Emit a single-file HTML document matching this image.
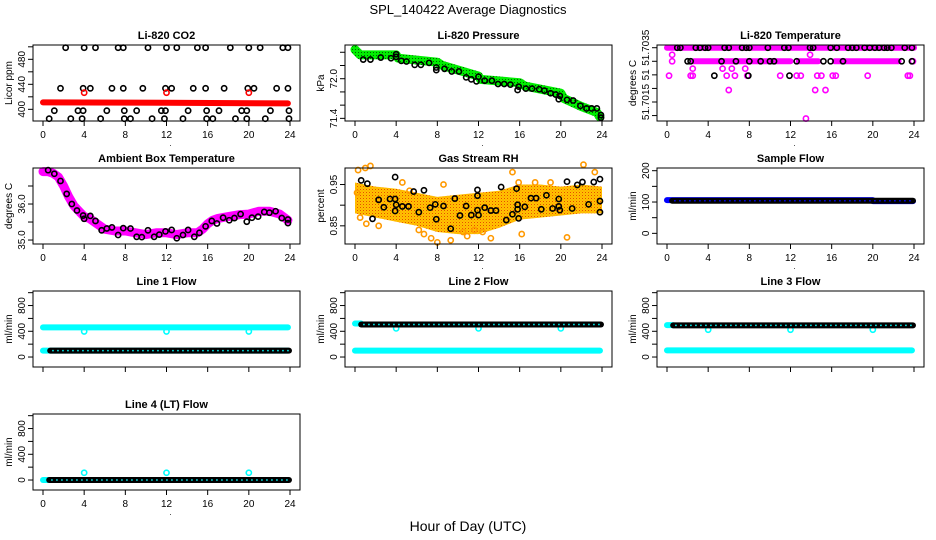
<!DOCTYPE html>
<html><head><meta charset="utf-8"><style>
html,body{margin:0;padding:0;background:#fff;}
svg{display:block;font-family:"Liberation Sans",Arial,sans-serif;}
</style></head><body>
<svg id="chart" width="936" height="540" viewBox="0 0 936 540">
<defs>
<pattern id="rhpat" width="3" height="3" patternUnits="userSpaceOnUse"><rect width="3" height="3" fill="#ffc400"/><rect x="0" y="0" width="1" height="1" fill="#e84a00"/><rect x="1.5" y="1.5" width="1" height="1" fill="#ff8c00"/></pattern>
<pattern id="grpat" width="3" height="3" patternUnits="userSpaceOnUse"><rect width="3" height="3" fill="#00ee00"/><rect x="1" y="1" width="1" height="1" fill="#006000"/></pattern>
</defs>
<text x="468" y="14" text-anchor="middle" font-size="13">SPL_140422  Average Diagnostics</text>
<text x="468" y="531" text-anchor="middle" font-size="14">Hour of Day (UTC)</text>
<g id="panels"></g>
</svg>
<script>
// ---------- data ----------
const xTicks=[0,4,8,12,16,20,24];
// CO2
const co2BlackHours=[2.2,4,5.1,7.3,7.8,10.2,12,13,15,15.8,18.2,20,21.1,23.3,23.8, 1.7,3.9,4.6,6.7,7.8,9.7,11.9,12.5,14.6,15.8,17.6,19.9,20.5,22.7,23.8, 1.1,3.4,3.9,6.2,7.9,9.1,11.5,11.9,14.1,15.9,17.1,19.3,19.8,22.1,23.9, 0.6,2.7,3.8,5.6,7.9,8.5,10.6,11.8,13.6,15.9,16.5,18.7,19.8,21.6,23.9];
const co2BlackVals=[498.6,498.6,498.6,498.6,498.6,498.6,498.6,498.6,498.6,498.6,498.6,498.6,498.6,498.6,498.6, 433.6,433.6,433.6,433.6,433.6,433.6,433.6,433.6,433.6,433.6,433.6,433.6,433.6,433.6,433.6, 397.8,397.8,397.8,397.8,397.8,397.8,397.8,397.8,397.8,397.8,397.8,397.8,397.8,397.8,397.8, 385,385,385,385,385,385,385,385,385,385,385,385,385,385,385];
const co2RedHours=[0,12,23.8];
const co2RedVals=[411,410.5,409.5];
const co2RedOutHours=[4,12,20];
const co2RedOutVals=[426.6,426.6,426.6];
// Pressure
const presGreenHours=[0,0.5,4,4.2,8,8.5,12,12.2,16,16.5,20,20.3,22,23.5,23.8];
const presGreenVals=[72.44,72.36,72.36,72.31,72.25,72.2,72.04,71.99,71.94,71.89,71.78,71.70,71.58,71.49,71.42];
const presBlackHours=[0.8,1.5,2.5,3.5,4,4,4.5,5,5.8,6.4,7.2,7.9,7.9,8.7,9.4,10.1,10.8,11.3,11.8,12,12.6,13.3,13.9,14.5,15.1,15.8,15.9,16.6,17.2,17.9,18.4,19,19.5,19.8,19.9,20.6,21.2,21.9,22.5,23,23.5,23.9,23.9];
const presBlackVals=[72.29,72.29,72.32,72.31,72.37,72.33,72.27,72.26,72.21,72.21,72.24,72.13,72.17,72.15,72.11,72.11,72.02,71.99,71.96,72.03,71.97,71.97,71.92,71.92,71.91,71.83,71.88,71.85,71.85,71.84,71.82,71.78,71.76,71.69,71.74,71.68,71.67,71.59,71.55,71.55,71.55,71.41,71.45];
// Li-820 temperature
const ltMagBandStart=[0,2.6,5.5,12.8,16.3];
const ltMagBandEnd=[24,5.2,12.0,14.7,22.5];
const ltMagBandVals=[51.7035,51.7030,51.7030,51.7030,51.7030];
const ltMagHours=[0.2,0.5,0.5,2.3,2.5,2.5,5.4,5.8,6.0,6.3,6.6,7.6,7.8,11.0,12.6,13.0,13.5,13.9,14.4,14.6,15.0,15.4,16.1,16.4,19.5,23.4,23.6,23.9];
const ltMagVals=[51.70247,51.70324,51.7030,51.70247,51.70273,51.70247,51.70273,51.70247,51.70194,51.70273,51.70247,51.70273,51.70247,51.70247,51.70247,51.70247,51.70089,51.70324,51.70194,51.70247,51.70247,51.70194,51.70247,51.70247,51.70247,51.70247,51.70247,51.7030];
const ltBlackHours=[1.0,1.3,2.8,3.2,3.7,4.0,5.6,6.0,7.3,7.7,8.0,9.8,11.4,11.8,13.9,14.2,15.9,16.5,17.6,18.0,18.4,19.2,19.7,20.2,20.6,21.1,21.4,21.8,23.1,23.8, 2.0,2.3,5.3,6.7,8.0,9.1,10.0,10.4,12.6,15.2,15.9,17.1,22.8,23.8, 4.6,7.9,11.9];
const ltBlackVals=[51.7035,51.7035,51.7035,51.7035,51.7035,51.7035,51.7035,51.7035,51.7035,51.7035,51.7035,51.7035,51.7035,51.7035,51.7035,51.7035,51.7035,51.7035,51.7035,51.7035,51.7035,51.7035,51.7035,51.7035,51.7035,51.7035,51.7035,51.7035,51.7035,51.7035, 51.7030,51.7030,51.7030,51.7030,51.7030,51.7030,51.7030,51.7030,51.7030,51.7030,51.7030,51.7030,51.7030,51.7030, 51.70247,51.70247,51.70247];
// Ambient box temperature
const ambMagHours=[0,0.5,1,1.5,2,2.5,3,3.5,4,4.5,5,5.5,6,7,8,9,10,11,12,13,14,15,15.5,16,16.5,17,18,19,20,21,22,23,23.8];
const ambMagVals=[36.9,36.9,36.85,36.75,36.5,36.2,35.95,35.8,35.65,35.6,35.5,35.4,35.3,35.25,35.25,35.2,35.15,35.2,35.2,35.15,35.2,35.2,35.3,35.45,35.55,35.6,35.65,35.7,35.72,35.8,35.8,35.72,35.55];
const ambBlackHours=[0.5,1.1,1.7,2.3,2.8,3.3,3.9,4,4.6,5.1,5.7,6.2,6.7,7.3,7.8,8.5,9.1,9.6,10.2,10.8,11.3,11.9,12.5,13.0,13.6,14.1,14.7,15.2,15.8,16.4,16.9,17.5,18.1,18.6,19.2,19.8,20.3,20.9,21.5,22.0,22.6,23.2,23.8,23.8];
const ambBlackVals=[36.94,36.84,36.64,36.28,36.0,35.82,35.68,35.59,35.67,35.53,35.27,35.32,35.35,35.14,35.33,35.32,35.09,35.08,35.27,35.09,35.15,35.24,35.28,35.05,35.14,35.28,35.09,35.2,35.38,35.53,35.46,35.62,35.55,35.61,35.72,35.51,35.62,35.65,35.78,35.76,35.80,35.61,35.57,35.47];
// Gas stream RH
const rhBandHours=[0,2,4,6,8,10,12,14,16,18,20,22,24];
const rhBandUpper=[0.955,0.945,0.94,0.93,0.92,0.925,0.93,0.935,0.95,0.95,0.945,0.95,0.945];
const rhBandLower=[0.88,0.87,0.86,0.85,0.835,0.83,0.83,0.845,0.865,0.87,0.875,0.88,0.88];
const rhOrangeHours=[0.2,0.3,1.0,1.5,0.5,1.1,4.6,8.6,6.7,7.4,8.0,9.3,10.9,13.2,15.3,16.2,20.6,22.2,23.3,15.9,5.3,2.3,11.6,17.5,19.0,6.2,10.5,12.4];
const rhOrangeVals=[0.93,0.985,0.99,0.995,0.87,0.855,0.955,0.95,0.83,0.82,0.81,0.815,0.825,0.82,0.98,0.83,0.822,0.998,0.98,0.955,0.935,0.85,0.84,0.955,0.955,0.84,0.835,0.835];
const rhBlackHours=[0.6,1.2,1.7,2.3,2.8,3.4,3.9,3.9,4.0,3.9,4.6,5.2,5.7,6.2,6.7,7.3,7.8,7.9,8.6,9.3,9.7,10.2,10.8,11.3,11.9,11.9,11.9,12.0,12.6,13.2,13.7,14.2,14.7,15.3,15.7,15.8,15.8,15.9,16.5,17.1,17.6,18.1,18.6,19.2,19.8,19.8,19.9,20.6,21.1,21.6,22.1,22.7,23.2,23.8,23.8,23.8];
const rhBlackVals=[0.960,0.952,0.867,0.913,0.895,0.915,0.968,0.915,0.901,0.886,0.897,0.897,0.933,0.883,0.936,0.894,0.902,0.866,0.898,0.843,0.916,0.875,0.898,0.876,0.937,0.923,0.888,0.876,0.894,0.887,0.887,0.944,0.864,0.878,0.940,0.901,0.89,0.868,0.896,0.917,0.917,0.89,0.924,0.892,0.915,0.897,0.888,0.957,0.892,0.949,0.956,0.902,0.956,0.963,0.91,0.883];
// Sample flow
const sfBlueStart=[0,20];const sfBlueEnd=[20,23.9];const sfBlueVals=[106,103];
const sfBlackStart=[0.5];const sfBlackEnd=[23.9];const sfBlackVals=[104];
// Line flows
const l1CyanStart=[0,0];const l1CyanEnd=[23.8,23.8];const l1CyanVals=[460,100];
const l1BlackStart=[0.7];const l1BlackEnd=[23.9];const l1BlackVals=[100];
const l1DipHours=[4,12,20];const l1DipVals=[398,398,398];
const l2CyanStart=[0,0];const l2CyanEnd=[0.6,23.8];const l2CyanVals=[520,100];
const l2BlackStart=[0.6];const l2BlackEnd=[23.9];const l2BlackVals=[505];
const l2DipHours=[4,12,20];const l2DipVals=[445,445,445];
const l3CyanStart=[0,0];const l3CyanEnd=[0.6,23.8];const l3CyanVals=[495,103];
const l3BlackStart=[0.6];const l3BlackEnd=[23.9];const l3BlackVals=[491];
const l3DipHours=[4,12,20];const l3DipVals=[425,425,425];
const l4CyanStart=[0];const l4CyanEnd=[0.6];const l4CyanVals=[0];
const l4BlackStart=[0.6];const l4BlackEnd=[23.9];const l4BlackVals=[0];
const l4PeakHours=[4,12,20];const l4PeakVals=[113,113,113];

// ---------- drawing ----------
const NS="http://www.w3.org/2000/svg";
const root=document.getElementById('panels');
function mk(tag,attrs,parent){const e=document.createElementNS(NS,tag);for(const k in attrs)e.setAttribute(k,attrs[k]);(parent||root).appendChild(e);return e;}
function geo(p){const top=45+123*p.row;return{x0:p.col*312+33,x1:p.col*312+300,top:top,bot:top+76};}
function xS(p,h){return p.col*312+43+h*247/24;}
function yS(p,v){const g=geo(p);return g.bot-(v-p.lo)/(p.hi-p.lo)*76;}

const flowTicks=[0,200,400,600,800,1000];const flowLabels=["0","","400","","800",""];
const panels=[
 {key:'co2',title:'Li-820 CO2',ylab:'Licor ppm',col:0,row:0,lo:381.3,hi:502.9,ticks:[400,420,440,460,480,500],labels:["400","","440","","480",""],xl:true,layers:[
   {t:'pts',x:co2BlackHours,y:co2BlackVals,c:'#000'},
   {t:'line',x:co2RedHours,y:co2RedVals,c:'#ff0000',w:6},
   {t:'pts',x:co2RedOutHours,y:co2RedOutVals,c:'#ff0000'}]},
 {key:'pressure',title:'Li-820 Pressure',ylab:'kPa',col:1,row:0,lo:71.36,hi:72.51,ticks:[71.4,71.6,71.8,72.0,72.2,72.4],labels:["71.4","","","72.0","",""],xl:true,layers:[
   {t:'line',x:presGreenHours,y:presGreenVals,c:'url(#grpat)',w:9},
   {t:'pts',x:presBlackHours,y:presBlackVals,c:'#000'}]},
 {key:'li-temp',title:'Li-820 Temperature',ylab:'degrees C',col:2,row:0,lo:51.7008,hi:51.70360,ticks:[51.7010,51.7015,51.7020,51.7025,51.7030,51.7035],labels:["","51.7015","","51","","51.7035"],xl:true,layers:[
   {t:'band',x0:ltMagBandStart,x1:ltMagBandEnd,y:ltMagBandVals,c:'#ff00ff',w:6},
   {t:'pts',x:ltMagHours,y:ltMagVals,c:'#ff00ff'},
   {t:'pts',x:ltBlackHours,y:ltBlackVals,c:'#000'}]},
 {key:'ambient',title:'Ambient Box Temperature',ylab:'degrees C',col:0,row:1,lo:34.89,hi:37.0,ticks:[35.0,35.5,36.0,36.5],labels:["35.0","","36.0",""],xl:true,layers:[
   {t:'line',x:ambMagHours,y:ambMagVals,c:'#ff00ff',w:9},
   {t:'pts',x:ambBlackHours,y:ambBlackVals,c:'#000'}]},
 {key:'rh',title:'Gas Stream RH',ylab:'percent',col:1,row:1,lo:0.806,hi:0.99,ticks:[0.85,0.90,0.95],labels:["0.85","","0.95"],xl:true,layers:[
   {t:'area',x:rhBandHours,up:rhBandUpper,lo:rhBandLower,c:'url(#rhpat)'},
   {t:'pts',x:rhOrangeHours,y:rhOrangeVals,c:'#ff9900'},
   {t:'pts',x:rhBlackHours,y:rhBlackVals,c:'#000'}]},
 {key:'sample-flow',title:'Sample Flow',ylab:'ml/min',col:2,row:1,lo:-34,hi:208.6,ticks:[0,50,100,150,200],labels:["0","","100","","200"],xl:true,layers:[
   {t:'band',x0:sfBlueStart,x1:sfBlueEnd,y:sfBlueVals,c:'#0000ff',w:6},
   {t:'band',x0:sfBlackStart,x1:sfBlackEnd,y:sfBlackVals,c:'#000',w:6,ring:'#0000ff'}]},
 {key:'line1',title:'Line 1 Flow',ylab:'ml/min',col:0,row:2,lo:-155,hi:1026,ticks:flowTicks,labels:flowLabels,xl:false,layers:[
   {t:'band',x0:l1CyanStart,x1:l1CyanEnd,y:l1CyanVals,c:'#00ffff',w:6},
   {t:'pts',x:l1DipHours,y:l1DipVals,c:'#00ffff'},
   {t:'band',x0:l1BlackStart,x1:l1BlackEnd,y:l1BlackVals,c:'#000',w:6,ring:'#00ffff'}]},
 {key:'line2',title:'Line 2 Flow',ylab:'ml/min',col:1,row:2,lo:-155,hi:1026,ticks:flowTicks,labels:flowLabels,xl:false,layers:[
   {t:'band',x0:l2CyanStart,x1:l2CyanEnd,y:l2CyanVals,c:'#00ffff',w:6},
   {t:'pts',x:l2DipHours,y:l2DipVals,c:'#00ffff'},
   {t:'band',x0:l2BlackStart,x1:l2BlackEnd,y:l2BlackVals,c:'#000',w:6,ring:'#00ffff'}]},
 {key:'line3',title:'Line 3 Flow',ylab:'ml/min',col:2,row:2,lo:-155,hi:1026,ticks:flowTicks,labels:flowLabels,xl:false,layers:[
   {t:'band',x0:l3CyanStart,x1:l3CyanEnd,y:l3CyanVals,c:'#00ffff',w:6},
   {t:'pts',x:l3DipHours,y:l3DipVals,c:'#00ffff'},
   {t:'band',x0:l3BlackStart,x1:l3BlackEnd,y:l3BlackVals,c:'#000',w:6,ring:'#00ffff'}]},
 {key:'line4',title:'Line 4 (LT) Flow',ylab:'ml/min',col:0,row:3,lo:-155,hi:1026,ticks:flowTicks,labels:flowLabels,xl:true,layers:[
   {t:'band',x0:l4CyanStart,x1:l4CyanEnd,y:l4CyanVals,c:'#00ffff',w:6},
   {t:'band',x0:l4BlackStart,x1:l4BlackEnd,y:l4BlackVals,c:'#000',w:6,ring:'#00ffff'},
   {t:'pts',x:l4PeakHours,y:l4PeakVals,c:'#00ffff'}]}
];

panels.forEach(p=>{
  const g=geo(p);
  const grp=mk('g',{});
  
  
  const t=mk('text',{x:(g.x0+g.x1)/2,y:g.top-6,'text-anchor':'middle','font-size':11,'font-weight':'bold'},grp);
  t.textContent=p.title;
  
  
  const yl=mk('text',{transform:`translate(${p.col*312+12},${(g.top+g.bot)/2}) rotate(-90)`,'text-anchor':'middle','font-size':10},grp);
  yl.textContent=p.ylab;
  
  
  const plot=mk('g',{},grp);
  
  
  p.layers.forEach(L=>{
    if(L.t==='pts'){
      L.x.forEach((h,i)=>{
        const c=mk('circle',{cx:xS(p,h),cy:yS(p,L.y[i]),r:2.6,fill:'none',stroke:L.c,'stroke-width':1.6},plot);
        
        
      });
    }else if(L.t==='line'){
      const pts=L.x.map((h,i)=>xS(p,h).toFixed(1)+','+yS(p,L.y[i]).toFixed(1)).join(' ');
      const pl=mk('polyline',{points:pts,fill:'none',stroke:L.c,'stroke-width':L.w,'stroke-linecap':'round','stroke-linejoin':'round'},plot);
      
      
    }else if(L.t==='band'){
      L.x0.forEach((h,i)=>{
        const y=yS(p,L.y[i]);
        const ln=mk('line',{x1:xS(p,h),x2:xS(p,L.x1[i]),y1:y,y2:y,stroke:L.c,'stroke-width':L.w,'stroke-linecap':'round'},plot);
        
        
        if(L.ring){
          const r=mk('line',{x1:xS(p,h)+2,x2:xS(p,L.x1[i]),y1:y,y2:y,stroke:L.ring,'stroke-width':1.5,'stroke-dasharray':'1.5 3.5'},plot);
          
          
        }
      });
    }else if(L.t==='area'){
      const up=L.x.map((h,i)=>xS(p,h).toFixed(1)+','+yS(p,L.up[i]).toFixed(1));
      const lo=L.x.map((h,i)=>xS(p,h).toFixed(1)+','+yS(p,L.lo[i]).toFixed(1)).reverse();
      const pg=mk('polygon',{points:up.concat(lo).join(' '),fill:L.c},plot);
      
      
    }
  });
  const box=mk('rect',{x:g.x0,y:g.top,width:g.x1-g.x0,height:g.bot-g.top,fill:'none',stroke:'#000','stroke-width':1},grp);
  
  
  // x axis
  const xa=mk('g',{},grp);
  
  
  mk('line',{x1:xS(p,0),x2:xS(p,24),y1:g.bot,y2:g.bot,stroke:'#000'},xa);
  xTicks.forEach(h=>{
    mk('line',{x1:xS(p,h),x2:xS(p,h),y1:g.bot,y2:g.bot+5,stroke:'#000'},xa);
    if(p.xl){
      const tl=mk('text',{x:xS(p,h),y:g.bot+17,'text-anchor':'middle','font-size':10},xa);
      tl.textContent=String(h);
      
      
    }
  });
  if(p.xl){const d=mk('text',{x:xS(p,12)+4,y:g.bot+25,'text-anchor':'middle','font-size':8},xa);d.textContent='.';}
  // y axis
  const ya=mk('g',{},grp);
  
  
  const ty=p.ticks.map(v=>yS(p,v));
  mk('line',{x1:g.x0,x2:g.x0,y1:Math.min(...ty),y2:Math.max(...ty),stroke:'#000'},ya);
  p.ticks.forEach((v,i)=>{
    const y=yS(p,v);
    mk('line',{x1:g.x0-5,x2:g.x0,y1:y,y2:y,stroke:'#000'},ya);
    if(p.labels[i]){
      const tl=mk('text',{transform:`translate(${g.x0-8},${y}) rotate(-90)`,'text-anchor':'middle','font-size':10},ya);
      tl.textContent=p.labels[i];
      
      
    }
  });
});
</script>
</body></html>
